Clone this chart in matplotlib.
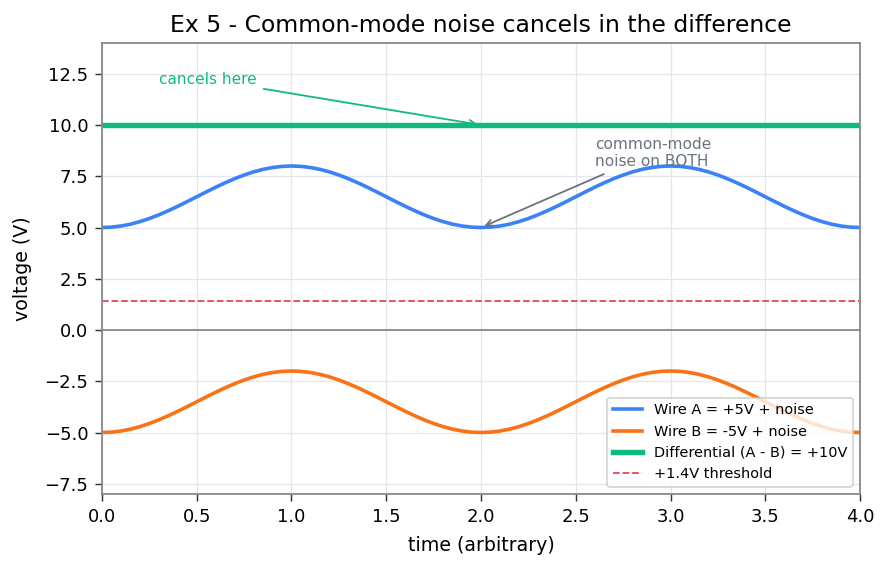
import numpy as np
import matplotlib
matplotlib.use("Agg")
import matplotlib.pyplot as plt

noise = [0.000, 0.018, 0.073, 0.163, 0.286, 0.439, 0.618, 0.819, 1.036, 1.265,
         1.500, 1.735, 1.964, 2.181, 2.382, 2.561, 2.714, 2.837, 2.927, 2.982,
         3.000, 2.982, 2.927, 2.837, 2.714, 2.561, 2.382, 2.181, 1.964, 1.735,
         1.500, 1.265, 1.036, 0.819, 0.618, 0.439, 0.286, 0.163, 0.073, 0.018,
         0.000, 0.018, 0.073, 0.163, 0.286, 0.439, 0.618, 0.819, 1.036, 1.265,
         1.500, 1.735, 1.964, 2.181, 2.382, 2.561, 2.714, 2.837, 2.927, 2.982,
         3.000, 2.982, 2.927, 2.837, 2.714, 2.561, 2.382, 2.181, 1.964, 1.735,
         1.500, 1.265, 1.036, 0.819, 0.618, 0.439, 0.286, 0.163, 0.073, 0.018,
         0.000]
t_end = 4.0
offset_a = 5.0
offset_b = -5.0
threshold = 1.4

t = np.linspace(0, t_end, len(noise))
wire_a = offset_a + np.array(noise)
wire_b = offset_b + np.array(noise)
diff = wire_a - wire_b

plt.rcParams['font.family'] = ['DejaVu Sans']
plt.rcParams['axes.edgecolor'] = '#888888'
plt.rcParams['axes.linewidth'] = 1.0

fig = plt.figure(figsize=(8.9 / 1.3, 5.69 / 1.3), dpi=130)
ax = fig.add_subplot(111)
fig.subplots_adjust(left=0.1146, right=0.9663, top=0.9244, bottom=0.1318)

ax.plot(t, wire_a, color='#3b82f6', lw=2, label='Wire A = +5V + noise')
ax.plot(t, wire_b, color='#f97316', lw=2, label='Wire B = -5V + noise')
ax.plot(t, diff, color='#10b981', lw=3, label='Differential (A - B) = +10V')
ax.axhline(threshold, color='#dc3545', lw=1, ls='--', alpha=0.9, label='+1.4V threshold')
ax.axhline(0, color='#888888', lw=1)

ax.annotate('common-mode\nnoise on BOTH', xy=(2.0, 5.0), xytext=(2.6, 8.0),
            color='#6b7280', fontsize=8.5,
            arrowprops=dict(arrowstyle='->', color='#6b7280', lw=1))
ax.annotate('cancels here', xy=(2.0, 10.0), xytext=(0.3, 12.0),
            color='#10b981', fontsize=8.5,
            arrowprops=dict(arrowstyle='->', color='#10b981', lw=1))

ax.set_xlim(0, t_end)
ax.set_ylim(-8, 14)
ax.set_yticks(np.arange(-7.5, 12.6, 2.5))
ax.grid(True, color='#e3e7ec', lw=0.7)
ax.set_axisbelow(True)
ax.tick_params(length=4, color='#333333')
ax.set_xlabel('time (arbitrary)', fontsize=10.5, labelpad=6)
ax.set_ylabel('voltage (V)', fontsize=10.5, labelpad=7)
ax.set_title('Ex 5 - Common-mode noise cancels in the difference', fontsize=13)
ax.legend(loc='lower right', fontsize=8)

fig.savefig('out.png', dpi=130)
